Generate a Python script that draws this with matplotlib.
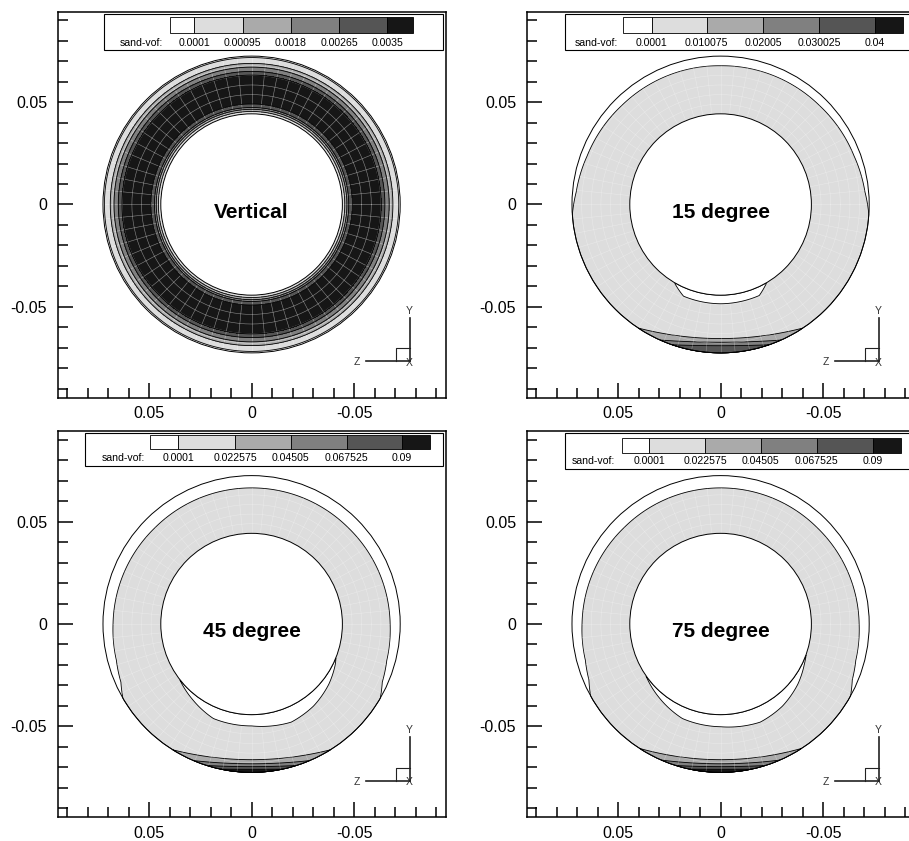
import numpy as np
import matplotlib
matplotlib.use('Agg')
import matplotlib.pyplot as plt
from matplotlib.patches import Polygon, Circle, Rectangle
from matplotlib.collections import LineCollection
from matplotlib.ticker import FixedLocator, FixedFormatter

plt.rcParams['font.family'] = ['Liberation Sans', 'DejaVu Sans']

# ---- data (metres) ----
R_OUT = 0.0725
R_IN = 0.0443

# contour fill greys, lowest band first
greys = ['#ffffff', '#dddddd', '#aaaaaa', '#808080', '#555555', '#161616']

# Vertical case: axisymmetric radial profile of sand-vof
vert_r = [0.0443, 0.0454, 0.0464, 0.0473, 0.0493, 0.0560, 0.0630, 0.0649, 0.0669, 0.0688, 0.0712, 0.0725]
vert_vof = [0.0005, 0.0009, 0.0017, 0.0026, 0.0036, 0.0041, 0.0036, 0.0027, 0.0019, 0.0010, 0.00015, 0.00004]
vert_levels = [0.0001, 0.00095, 0.0018, 0.00265, 0.0035]

# inclined cases: outer edge of sand layer (angle from top, deg -> radius)
sand15_psi = [0, 45, 70, 85, 94, 180]
sand15_r = [0.0678, 0.0683, 0.0693, 0.0707, 0.0725, 0.0725]
sand45_psi = [0, 45, 90, 105, 114, 120, 180]
sand45_r = [0.0665, 0.0666, 0.0676, 0.0683, 0.0698, 0.0725, 0.0725]
sand75_psi = [0, 45, 90, 105, 113, 119, 180]
sand75_r = [0.0665, 0.0666, 0.0676, 0.0683, 0.0698, 0.0725, 0.0725]

# clear gap below the inner pipe (screen angle, deg -> radius)
gap15_theta = [-120, -112, -90, -67, -60]
gap15_r = [0.0446, 0.0483, 0.0485, 0.0483, 0.0446]
gap45_theta = [-142, -128, -112, -90, -68, -53, -38, -26, -22]
gap45_r = [0.0444, 0.0468, 0.0498, 0.0498, 0.0517, 0.0502, 0.0478, 0.0454, 0.0444]
gap75_theta = [-145, -130, -112, -90, -68, -53, -38, -26, -20]
gap75_r = [0.0444, 0.0468, 0.0498, 0.0502, 0.0517, 0.0502, 0.0478, 0.0454, 0.0444]

# settled bed at the bottom: half angle where each level meets wall, depth at centre
bed15_phi = [33.6, 24, 19]
bed15_r = [0.0655, 0.0673, 0.0690]
bed45_phi = [32, 23, 17.5, 12]
bed45_r = [0.0663, 0.0683, 0.0697, 0.0710]
bed75_phi = [33, 23.5, 17.5, 12]
bed75_r = [0.0663, 0.0683, 0.0697, 0.0710]

titles = ['Vertical', '15 degree', '45 degree', '75 degree']
legend_labels = [
    ['0.0001', '0.00095', '0.0018', '0.00265', '0.0035'],
    ['0.0001', '0.010075', '0.02005', '0.030025', '0.04'],
    ['0.0001', '0.022575', '0.04505', '0.067525', '0.09'],
    ['0.0001', '0.022575', '0.04505', '0.067525', '0.09'],
]
tick_vals = [0.05, 0.0, -0.05]
tick_labels = ['0.05', '0', '-0.05']

# ---- layout (pixels) ----
FIG_W, FIG_H = 909, 841
AX_W, AX_H = 387.4, 386.0
panels = [(58.3, 11.7), (527.3, 11.7), (58.3, 431.2), (527.3, 431.2)]
# frame (x0, y0, x1, y1), box y range, box edges, title x, label y
legends = [
    ((104, 13.5, 443, 50), (16.7, 33.3), [170, 194.3, 242.7, 291, 339.3, 387.3, 412.7], 120, 43.3),
    ((565, 13.8, 912, 49.5), (17.3, 33.3), [623, 651.7, 706.7, 763.3, 819.3, 875, 903.3], 575, 43.3),
    ((85, 433.3, 443, 466), (434.5, 448.5), [150, 178.3, 235, 290.7, 346.7, 401.7, 430], 101.7, 457.5),
    ((565, 433.3, 912, 469), (438, 453), [621.7, 649.3, 705, 761, 816.7, 872.7, 900.7], 571.7, 461.3),
]

fig = plt.figure(figsize=(FIG_W / 100, FIG_H / 100), dpi=100)


def screen_xy(r, th):
    # x axis is reversed, so screen right is negative data x
    return -r * np.cos(th), r * np.sin(th)


def draw_mesh(ax, clip=None, alpha=0.5):
    th = np.radians(np.arange(0, 360, 5.625))
    segs = []
    for t in th:
        x0, y0 = screen_xy(R_IN, t)
        x1, y1 = screen_xy(R_OUT, t)
        segs.append([(x0, y0), (x1, y1)])
    lc = LineCollection(segs, colors='white', linewidths=0.4, alpha=alpha, zorder=3)
    ax.add_collection(lc)
    arts = [lc]
    tt = np.linspace(0, 2 * np.pi, 361)
    for rr in np.linspace(R_IN, R_OUT, 7)[1:-1]:
        x, y = screen_xy(rr, tt)
        ln, = ax.plot(x, y, color='white', lw=0.4, alpha=alpha, zorder=3)
        arts.append(ln)
    if clip is not None:
        for a in arts:
            a.set_clip_path(clip)


def bed_polygon(phi_deg, rm):
    phi = np.radians(phi_deg)
    half = R_OUT * np.sin(phi)
    depth = R_OUT * np.cos(phi)
    xs = np.linspace(-half, half, 100)
    ys = -rm + (rm - depth) * (xs / half) ** 2
    w = np.linspace(-np.pi / 2 + phi, -np.pi / 2 - phi, 100)
    pts = np.vstack([np.column_stack([xs, ys]),
                     np.column_stack([R_OUT * np.cos(w), R_OUT * np.sin(w)])])
    pts[:, 0] *= -1
    return pts


def draw_vertical(ax):
    th = np.linspace(0, 2 * np.pi, 361)
    T, R = np.meshgrid(th, np.array(vert_r))
    Z = np.tile(np.array(vert_vof)[:, None], (1, len(th)))
    X, Y = screen_xy(R, T)
    ax.contourf(X, Y, Z, levels=[0] + vert_levels + [1], colors=greys, zorder=1)
    ax.contour(X, Y, Z, levels=vert_levels, colors='black', linewidths=0.6, zorder=4)
    draw_mesh(ax)


def draw_inclined(ax, s_psi, s_r, g_th, g_r, b_phi, b_r):
    th = np.linspace(-np.pi, np.pi, 721)
    psi = np.degrees(np.abs(((th - np.pi / 2 + np.pi) % (2 * np.pi)) - np.pi))
    rs = np.interp(psi, s_psi, s_r)
    x, y = screen_xy(rs, th)
    sand = Polygon(np.column_stack([x, y]), closed=True, fc=greys[1], ec='black', lw=0.6, zorder=1)
    ax.add_patch(sand)
    for k, (phi, rm) in enumerate(zip(b_phi, b_r)):
        ax.add_patch(Polygon(bed_polygon(phi, rm), closed=True, fc=greys[k + 2],
                             ec='black', lw=0.6, zorder=2))
    draw_mesh(ax, clip=sand, alpha=0.35)
    tg = np.linspace(g_th[0], g_th[-1], 200)
    rg = np.interp(tg, g_th, g_r)
    xo, yo = screen_xy(rg, np.radians(tg))
    xi, yi = screen_xy(R_IN, np.radians(tg[::-1]))
    ax.add_patch(Polygon(np.column_stack([np.r_[xo, xi], np.r_[yo, yi]]), closed=True,
                         fc='white', ec='black', lw=0.6, zorder=4))


def style_axes(ax):
    ax.set_xlim(0.0943, -0.0947)
    ax.set_ylim(-0.0944, 0.0942)
    minor = [v / 100 for v in range(-9, 10) if v % 5 != 0]
    for axis in (ax.xaxis, ax.yaxis):
        axis.set_major_locator(FixedLocator(tick_vals))
        axis.set_major_formatter(FixedFormatter(tick_labels))
        axis.set_minor_locator(FixedLocator(minor))
    ax.tick_params(which='both', direction='in', top=False, right=False, width=1.1, color='black')
    ax.tick_params(which='major', length=10.8, labelsize=11.5)
    ax.tick_params(axis='x', which='major', pad=6)
    ax.tick_params(axis='y', which='major', pad=8)
    ax.tick_params(which='minor', length=7.2)
    for sp in ax.spines.values():
        sp.set_linewidth(1.1)


def draw_legend(ax, left, top, spec, labels):
    frame, boxy, edges, title_x, label_y = spec

    def fr(px, py):
        return (px - left) / AX_W, 1 - (py - top) / AX_H

    fx0, fy1 = fr(frame[0], frame[1])
    fx1, fy0 = fr(frame[2], frame[3])
    ax.add_patch(Rectangle((fx0, fy0), fx1 - fx0, fy1 - fy0, transform=ax.transAxes,
                           fc='white', ec='black', lw=0.8, zorder=10, clip_on=False))
    for k in range(6):
        bx0, by1 = fr(edges[k], boxy[0])
        bx1, by0 = fr(edges[k + 1], boxy[1])
        ax.add_patch(Rectangle((bx0, by0), bx1 - bx0, by1 - by0, transform=ax.transAxes,
                               fc=greys[k], ec='black', lw=0.6, zorder=11, clip_on=False))
    tx, ty = fr(title_x, label_y)
    ax.text(tx, ty, 'sand-vof:', transform=ax.transAxes, fontsize=7.6,
            ha='left', va='center', zorder=12)
    for k, lab in enumerate(labels):
        lx, ly = fr(edges[k + 1], label_y)
        ax.text(lx, ly, lab, transform=ax.transAxes, fontsize=7.6,
                ha='center', va='center', zorder=12)


def draw_triad(ax):
    kw = dict(transform=ax.transAxes, color='#222222', clip_on=False, zorder=9)
    ax.plot([0.9078, 0.9078], [0.0938, 0.2065], lw=1.2, **kw)
    ax.plot([0.7943, 0.9078], [0.0938, 0.0938], lw=1.2, **kw)
    ax.plot([0.8717, 0.8717, 0.9078], [0.0938, 0.1275, 0.1275], lw=0.8, **kw)
    tk = dict(transform=ax.transAxes, fontsize=7.5, color='#333333', ha='center', va='center')
    ax.text(0.9057, 0.2254, 'Y', **tk)
    ax.text(0.7718, 0.0917, 'Z', **tk)
    ax.text(0.9057, 0.0907, 'X', **tk)


inclined = [
    (sand15_psi, sand15_r, gap15_theta, gap15_r, bed15_phi, bed15_r),
    (sand45_psi, sand45_r, gap45_theta, gap45_r, bed45_phi, bed45_r),
    (sand75_psi, sand75_r, gap75_theta, gap75_r, bed75_phi, bed75_r),
]

for i, (left, top) in enumerate(panels):
    ax = fig.add_axes([left / FIG_W, 1 - (top + AX_H) / FIG_H, AX_W / FIG_W, AX_H / FIG_H])
    if i == 0:
        draw_vertical(ax)
    else:
        draw_inclined(ax, *inclined[i - 1])
    ax.add_patch(Circle((0, 0), R_IN, fc='white', ec='black', lw=0.7, zorder=5))
    ax.add_patch(Circle((0, 0), R_OUT, fc='none', ec='black', lw=0.7, zorder=6))
    ax.text(0, -0.0037, titles[i], fontsize=15, fontweight='bold', ha='center', va='center', zorder=7)
    style_axes(ax)
    draw_legend(ax, left, top, legends[i], legend_labels[i])
    draw_triad(ax)

fig.savefig('out.png', dpi=100)
